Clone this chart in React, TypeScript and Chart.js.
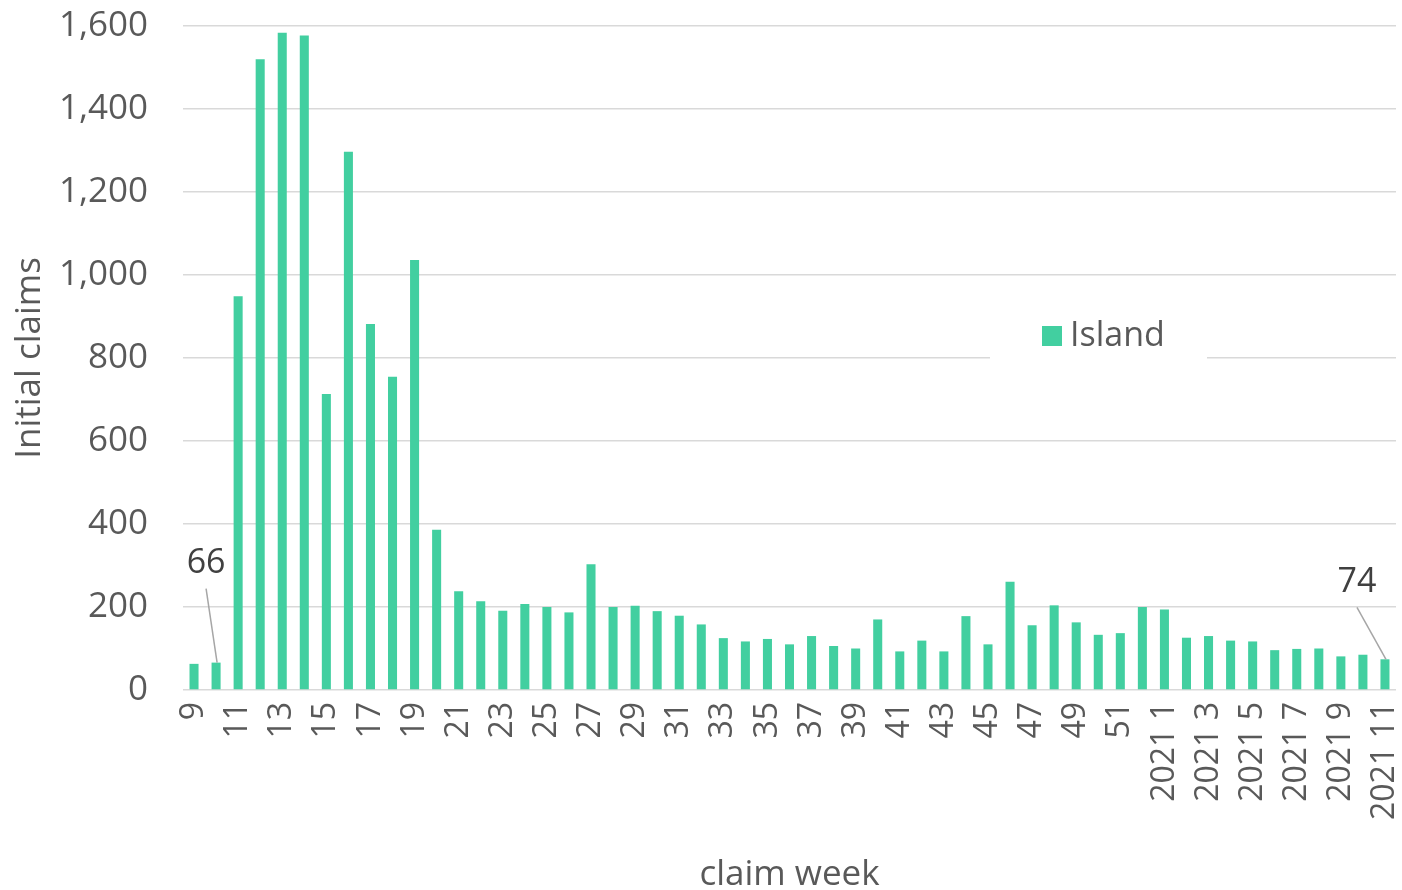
import React, { useEffect, useRef } from "react";
import { Chart, registerables } from "chart.js";

Chart.register(...registerables);

const weeks2020: string[] = [
  "9", "10", "11", "12", "13", "14", "15", "16", "17", "18", "19", "20", "21", "22", "23", "24", "25", "26",
  "27", "28", "29", "30", "31", "32", "33", "34", "35", "36", "37", "38", "39", "40", "41", "42", "43", "44",
  "45", "46", "47", "48", "49", "50", "51", "52",
];
const weeks2021: string[] = [
  "2021 1", "2021 2", "2021 3", "2021 4", "2021 5", "2021 6", "2021 7", "2021 8", "2021 9", "2021 10", "2021 11",
];
const categories: string[] = [...weeks2020, ...weeks2021];

const islandClaims: number[] = [
  63, 66, 949, 1520, 1584, 1577, 713, 1297, 882, 755, 1036, 386, 238, 214, 191, 207, 200, 187,
  303, 200, 203, 190, 179, 158, 125, 117, 123, 110, 130, 106, 100, 170, 93, 119, 93, 178,
  110, 261, 156, 204, 163, 133, 137, 200,
  194, 126, 130, 119, 117, 96, 99, 100, 81, 85, 74,
];

const yTicks: number[] = [0, 200, 400, 600, 800, 1000, 1200, 1400, 1600];
const labelledIndices: number[] = [1, 54];

const FONT = "'Open Sans', 'DejaVu Sans', sans-serif";
const BAR_COLOR = "#42CFA0";
const AXIS_TEXT = "#595959";

export default function App() {
  const canvasRef = useRef<HTMLCanvasElement | null>(null);

  useEffect(() => {
    document.body.style.margin = "0";
    const canvas = canvasRef.current;
    if (!canvas) return;

    const annotationPlugin = {
      id: "annotations",
      afterDatasetsDraw(chart: any) {
        const ctx = chart.ctx;
        const meta = chart.getDatasetMeta(0);
        const offsets: Record<number, [number, number]> = { 1: [-10, -99], 54: [-28, -77] };
        ctx.save();
        labelledIndices.forEach((i) => {
          const el = meta.data[i];
          if (!el) return;
          const [dx, dy] = offsets[i];
          const lx = el.x + dx;
          const ly = el.y + dy;
          ctx.strokeStyle = "#a6a6a6";
          ctx.lineWidth = 1.5;
          ctx.beginPath();
          ctx.moveTo(lx, ly + 25);
          ctx.lineTo(el.x + 1, el.y);
          ctx.stroke();
          ctx.fillStyle = "#404040";
          ctx.font = `34px ${FONT}`;
          ctx.textAlign = "center";
          ctx.textBaseline = "middle";
          ctx.fillText(String(islandClaims[i]), lx, ly);
        });
        ctx.restore();
      },
    };

    const legendPlugin = {
      id: "insideLegend",
      afterDraw(chart: any) {
        const ctx = chart.ctx;
        ctx.save();
        ctx.fillStyle = "#ffffff";
        ctx.fillRect(990, 312, 217, 56);
        ctx.fillStyle = BAR_COLOR;
        ctx.fillRect(1042, 326, 20, 20);
        ctx.fillStyle = AXIS_TEXT;
        ctx.font = `34px ${FONT}`;
        ctx.textAlign = "left";
        ctx.textBaseline = "middle";
        ctx.fillText(chart.data.datasets[0].label, 1070, 336);
        ctx.restore();
      },
    };

    const chart = new Chart(canvas, {
      type: "bar",
      data: {
        labels: categories,
        datasets: [
          {
            label: "Island",
            data: islandClaims,
            backgroundColor: BAR_COLOR,
            borderWidth: 0,
            barPercentage: 0.41,
            categoryPercentage: 1,
          },
        ],
      },
      options: {
        animation: false,
        responsive: false,
        maintainAspectRatio: false,
        layout: { padding: { top: 26, right: 6, left: 0, bottom: 0 } },
        plugins: {
          legend: { display: false },
          tooltip: { enabled: false },
        },
        scales: {
          x: {
            grid: { display: false, drawTicks: false },
            border: { display: false },
            afterFit: (scale: any) => {
              scale.height = 200;
              scale.paddingLeft = 0;
              scale.paddingRight = 0;
              scale.paddingTop = 0;
              scale.paddingBottom = 0;
            },
            ticks: {
              autoSkip: false,
              minRotation: 90,
              maxRotation: 90,
              padding: 12,
              color: AXIS_TEXT,
              font: { family: FONT, size: 32 },
              callback: function (this: any, _v: any, index: number) {
                return index % 2 === 0 ? categories[index] : "";
              },
            },
            title: {
              display: true,
              text: "claim week",
              color: AXIS_TEXT,
              font: { family: FONT, size: 35 },
              padding: { top: 0, bottom: -6 },
            },
          },
          y: {
            min: 0,
            max: 1600,
            afterFit: (scale: any) => {
              scale.width = 183;
              scale.paddingLeft = 0;
              scale.paddingRight = 0;
              scale.paddingTop = 0;
              scale.paddingBottom = 0;
            },
            afterBuildTicks: (scale: any) => {
              scale.ticks = yTicks.map((v) => ({ value: v }));
            },
            grid: { color: "#d9d9d9", lineWidth: 1.4, drawTicks: false },
            border: { display: false },
            ticks: {
              padding: 35,
              color: AXIS_TEXT,
              font: { family: FONT, size: 35 },
              callback: (v: any) => Number(v).toLocaleString("en-US"),
            },
            title: {
              display: true,
              text: "Initial claims",
              color: AXIS_TEXT,
              font: { family: FONT, size: 35 },
              padding: { top: 9, bottom: 0 },
            },
          },
        },
      },
      plugins: [annotationPlugin, legendPlugin],
    });

    return () => {
      chart.destroy();
    };
  }, []);

  return (
    <div style={{ width: 1402, height: 890, position: "relative" }}>
      <canvas ref={canvasRef} width={1402} height={890} style={{ display: "block" }} />
    </div>
  );
}
